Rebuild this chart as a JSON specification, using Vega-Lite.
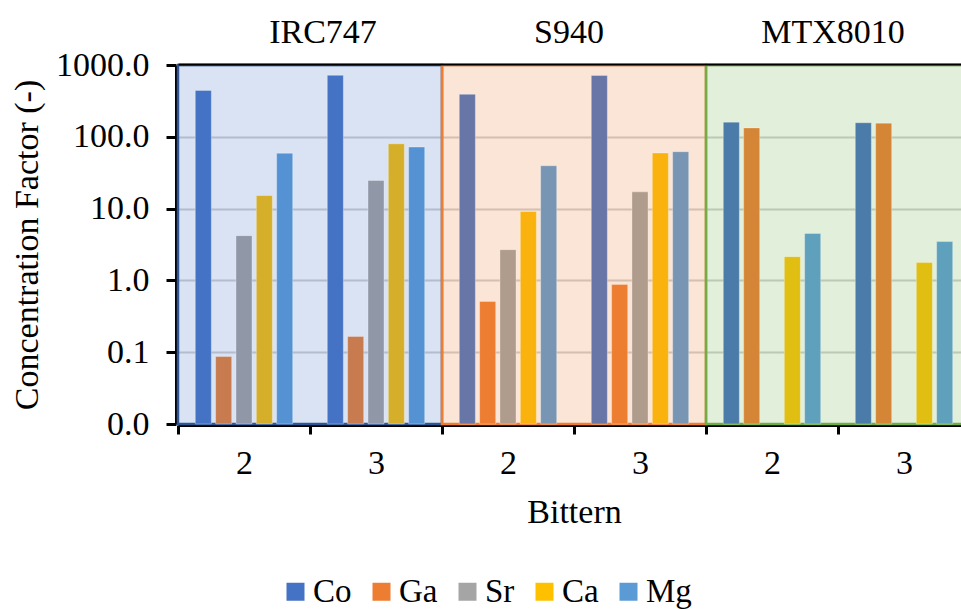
{
  "$schema": "https://vega.github.io/schema/vega-lite/v6.json",
  "width": 783,
  "height": 359,
  "autosize": {"type": "none"},
  "padding": {"left": 178, "top": 65, "right": 0, "bottom": 185},
  "background": "white",
  "config": {
    "font": "Liberation Serif",
    "view": {"stroke": null},
    "axis": {"labelColor": "black", "titleColor": "black", "titleFontWeight": "normal"},
    "legend": {"labelColor": "black"}
  },
  "datasets": {
    "panels": [
      {"panel": "IRC747"},
      {"panel": "S940"},
      {"panel": "MTX8010"}
    ],
    "bars": [
      {"panel": "IRC747", "bittern": "2", "group": "IRC747|2", "element": "Co", "key": "IRC747|Co", "value": 443},
      {"panel": "IRC747", "bittern": "2", "group": "IRC747|2", "element": "Ga", "key": "IRC747|Ga", "value": 0.087},
      {"panel": "IRC747", "bittern": "2", "group": "IRC747|2", "element": "Sr", "key": "IRC747|Sr", "value": 4.2},
      {"panel": "IRC747", "bittern": "2", "group": "IRC747|2", "element": "Ca", "key": "IRC747|Ca", "value": 15.2},
      {"panel": "IRC747", "bittern": "2", "group": "IRC747|2", "element": "Mg", "key": "IRC747|Mg", "value": 59},
      {"panel": "IRC747", "bittern": "3", "group": "IRC747|3", "element": "Co", "key": "IRC747|Co", "value": 718},
      {"panel": "IRC747", "bittern": "3", "group": "IRC747|3", "element": "Ga", "key": "IRC747|Ga", "value": 0.166},
      {"panel": "IRC747", "bittern": "3", "group": "IRC747|3", "element": "Sr", "key": "IRC747|Sr", "value": 24.6},
      {"panel": "IRC747", "bittern": "3", "group": "IRC747|3", "element": "Ca", "key": "IRC747|Ca", "value": 80},
      {"panel": "IRC747", "bittern": "3", "group": "IRC747|3", "element": "Mg", "key": "IRC747|Mg", "value": 72},
      {"panel": "S940", "bittern": "2", "group": "S940|2", "element": "Co", "key": "S940|Co", "value": 390},
      {"panel": "S940", "bittern": "2", "group": "S940|2", "element": "Ga", "key": "S940|Ga", "value": 0.51},
      {"panel": "S940", "bittern": "2", "group": "S940|2", "element": "Sr", "key": "S940|Sr", "value": 2.68},
      {"panel": "S940", "bittern": "2", "group": "S940|2", "element": "Ca", "key": "S940|Ca", "value": 9.1},
      {"panel": "S940", "bittern": "2", "group": "S940|2", "element": "Mg", "key": "S940|Mg", "value": 39.5},
      {"panel": "S940", "bittern": "3", "group": "S940|3", "element": "Co", "key": "S940|Co", "value": 715},
      {"panel": "S940", "bittern": "3", "group": "S940|3", "element": "Ga", "key": "S940|Ga", "value": 0.88},
      {"panel": "S940", "bittern": "3", "group": "S940|3", "element": "Sr", "key": "S940|Sr", "value": 17.1},
      {"panel": "S940", "bittern": "3", "group": "S940|3", "element": "Ca", "key": "S940|Ca", "value": 59.5},
      {"panel": "S940", "bittern": "3", "group": "S940|3", "element": "Mg", "key": "S940|Mg", "value": 62},
      {"panel": "MTX8010", "bittern": "2", "group": "MTX8010|2", "element": "Co", "key": "MTX8010|Co", "value": 160},
      {"panel": "MTX8010", "bittern": "2", "group": "MTX8010|2", "element": "Ga", "key": "MTX8010|Ga", "value": 133},
      {"panel": "MTX8010", "bittern": "2", "group": "MTX8010|2", "element": "Ca", "key": "MTX8010|Ca", "value": 2.14},
      {"panel": "MTX8010", "bittern": "2", "group": "MTX8010|2", "element": "Mg", "key": "MTX8010|Mg", "value": 4.5},
      {"panel": "MTX8010", "bittern": "3", "group": "MTX8010|3", "element": "Co", "key": "MTX8010|Co", "value": 157},
      {"panel": "MTX8010", "bittern": "3", "group": "MTX8010|3", "element": "Ga", "key": "MTX8010|Ga", "value": 155},
      {"panel": "MTX8010", "bittern": "3", "group": "MTX8010|3", "element": "Ca", "key": "MTX8010|Ca", "value": 1.77},
      {"panel": "MTX8010", "bittern": "3", "group": "MTX8010|3", "element": "Mg", "key": "MTX8010|Mg", "value": 3.47}
    ]
  },
  "layer": [
    {
      "data": {"name": "panels"},
      "mark": {"type": "rect", "fillOpacity": 0.2, "strokeWidth": 2.5},
      "encoding": {
        "x": {
          "field": "panel", "type": "nominal", "sort": null,
          "scale": {"domain": ["IRC747", "S940", "MTX8010"], "range": [0, 792], "paddingInner": 0, "paddingOuter": 0},
          "axis": {"orient": "top", "title": null, "ticks": false, "tickSize": 0, "domainColor": "black", "domainWidth": 2, "labelFontSize": 34, "labelPadding": 15, "labelAngle": 0, "offset": 1,
            "labelOffset": {"condition": {"test": "datum.value === 'IRC747'", "value": 13}, "value": -5}}
        },
        "y": {"datum": 1000, "type": "quantitative"},
        "y2": {"datum": 0.01},
        "fill": {
          "field": "panel", "type": "nominal",
          "scale": {"domain": ["IRC747", "S940", "MTX8010"], "range": ["#4472C4", "#ED7D31", "#70AD47"]},
          "legend": null
        },
        "stroke": {
          "field": "panel", "type": "nominal",
          "scale": {"domain": ["IRC747", "S940", "MTX8010"], "range": ["#2F5597", "#ED7D31", "#70AD47"]},
          "legend": null
        }
      }
    },
    {
      "data": {"name": "bars"},
      "mark": {"type": "bar", "stroke": "white", "strokeOpacity": 0.3, "strokeWidth": 1},
      "encoding": {
        "x": {
          "field": "group", "type": "nominal", "sort": null,
          "scale": {"domain": ["IRC747|2", "IRC747|3", "S940|2", "S940|3", "MTX8010|2", "MTX8010|3"], "range": [0, 792], "paddingInner": 0, "paddingOuter": 0},
          "axis": {"orient": "bottom", "title": "Bittern", "labelExpr": "slice(datum.label, -1)", "tickBand": "extent", "labelAngle": 0, "tickSize": 9, "tickWidth": 3, "tickColor": "black", "domainColor": "black", "domainWidth": 3, "labelPadding": 12, "labelFontSize": 34, "titleFontSize": 34, "titlePadding": 15, "offset": 1}
        },
        "xOffset": {
          "field": "element", "type": "nominal",
          "scale": {"domain": ["Co", "Ga", "Sr", "Ca", "Mg"], "paddingInner": 0.21, "paddingOuter": 0.85}
        },
        "y": {
          "field": "value", "type": "quantitative", "stack": null,
          "scale": {"type": "log", "domain": [0.01, 1000], "nice": false},
          "axis": {"title": "Concentration Factor (-)", "values": [0.01, 0.1, 1, 10, 100, 1000], "format": ".1f", "grid": true, "gridColor": "#d0d0d0", "gridWidth": 2, "domainColor": "black", "domainWidth": 3, "tickColor": "black", "tickWidth": 3, "tickSize": 10, "labelFontSize": 34, "labelPadding": 17, "titleFontSize": 34, "titlePadding": 11, "offset": 2}
        },
        "y2": {"datum": 0.01},
        "color": {
          "field": "key", "type": "nominal",
          "scale": {
            "domain": ["IRC747|Co", "IRC747|Ga", "IRC747|Sr", "IRC747|Ca", "IRC747|Mg", "S940|Co", "S940|Ga", "S940|Sr", "S940|Ca", "S940|Mg", "MTX8010|Co", "MTX8010|Ga", "MTX8010|Sr", "MTX8010|Ca", "MTX8010|Mg"],
            "range": ["#4472C4", "#C87B4E", "#9098A8", "#D6AF2A", "#5592D4", "#6775A7", "#ED7D31", "#B09C8C", "#F9B20E", "#7995B4", "#4B7BA8", "#D48636", "#A5A5A5", "#E0BE12", "#5FA0BC"]
          },
          "legend": null
        }
      }
    },
    {
      "data": {"name": "bars"},
      "transform": [{"filter": "false"}],
      "mark": {"type": "square"},
      "encoding": {
        "fill": {
          "field": "element", "type": "nominal",
          "scale": {"domain": ["Co", "Ga", "Sr", "Ca", "Mg"], "range": ["#4472C4", "#ED7D31", "#A5A5A5", "#FFC000", "#5B9BD5"]},
          "legend": {"orient": "none", "legendX": 101, "legendY": 510, "direction": "horizontal", "title": null, "symbolType": "square", "symbolSize": 324, "symbolStrokeWidth": 0, "symbolOpacity": 1, "labelFontSize": 33, "labelOffset": 1, "columnPadding": 13}
        }
      }
    }
  ],
  "resolve": {"scale": {"x": "independent", "fill": "independent"}}
}
